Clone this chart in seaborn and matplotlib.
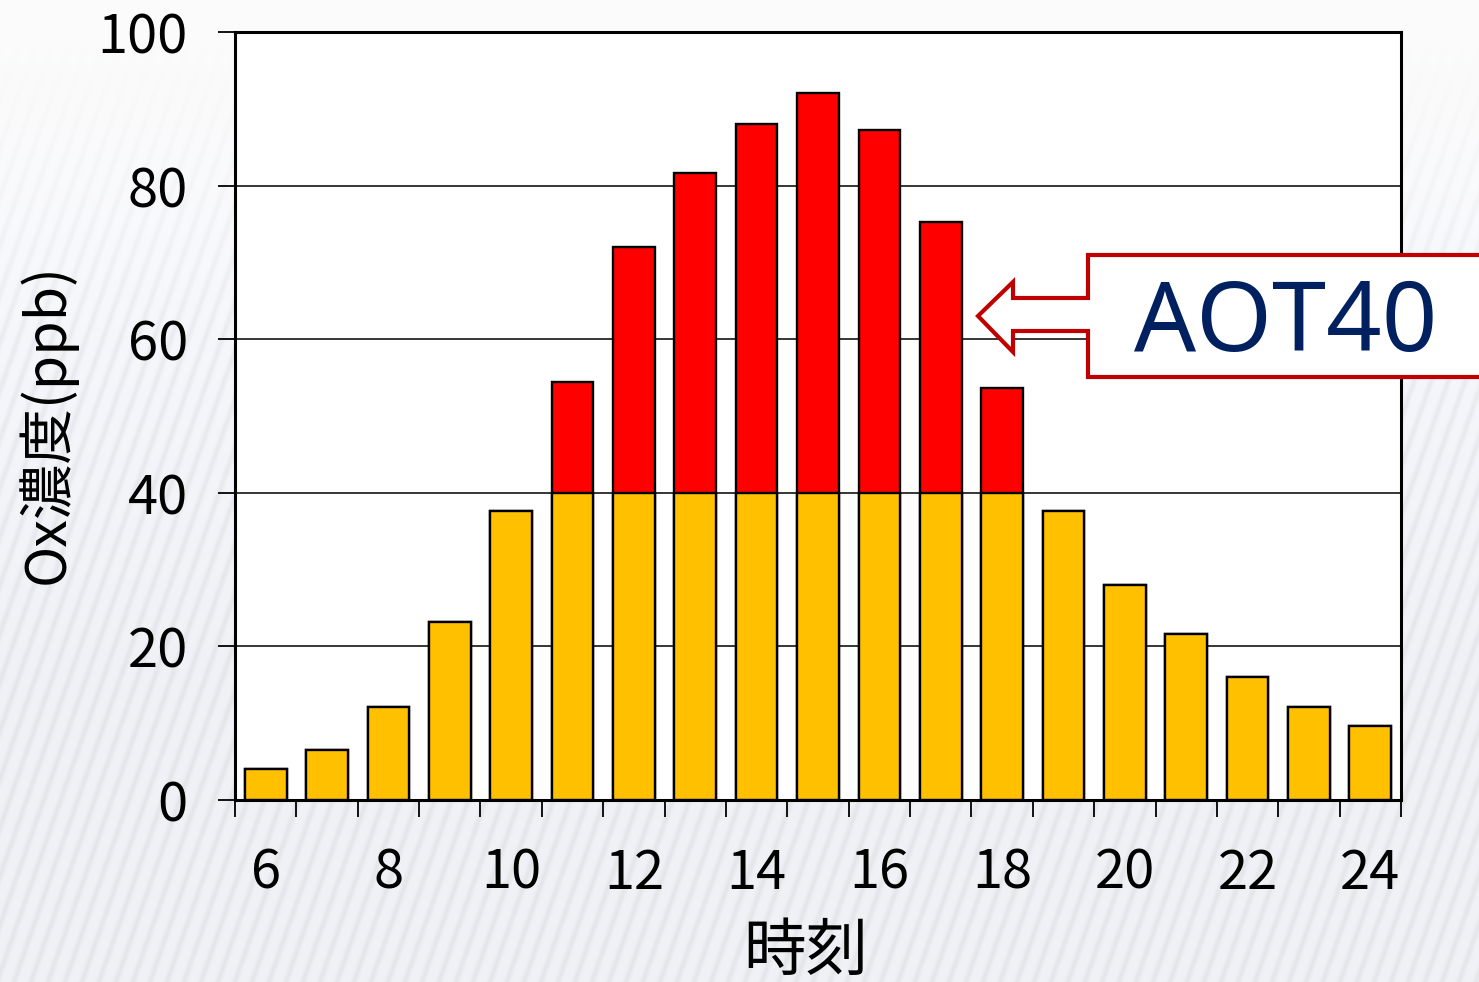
import numpy as np
import pandas as pd
import matplotlib
matplotlib.use("Agg")
import matplotlib.pyplot as plt
from matplotlib.patches import Polygon
import seaborn as sns

# Hourly Ox concentration (ppb), 6h to 24h
hours = [6, 7, 8, 9, 10, 11, 12, 13, 14, 15, 16, 17, 18, 19, 20, 21, 22, 23, 24]
ox_ppb = [4.0, 6.5, 12.1, 23.2, 37.6, 54.4, 72.0, 81.6, 88.0, 92.1, 87.2, 75.3,
          53.6, 37.6, 28.0, 21.6, 16.0, 12.1, 9.6]
threshold = 40
tick_hours = [6, 8, 10, 12, 14, 16, 18, 20, 22, 24]
y_ticks = [0, 20, 40, 60, 80, 100]

df = pd.DataFrame({"hour": [str(h) for h in hours], "ox": ox_ppb})
df["base"] = df["ox"].clip(upper=threshold)

sns.set_theme(style="white")
plt.rcParams["font.family"] = ["Noto Sans CJK JP", "DejaVu Sans"]

W, H, DPI = 1479, 982, 100
fig = plt.figure(figsize=(W / DPI, H / DPI), dpi=DPI)

# light striped backdrop
bg = fig.add_axes([0, 0, 1, 1], zorder=-10)
yy, xx = np.mgrid[0:H, 0:W]
phase = (xx + 0.35 * yy) / 17.0
stripe = (0.5 + 0.5 * np.cos(2 * np.pi * phase)) ** 3
fade = np.clip((yy - 40) / 300.0, 0, 1)
lower = np.clip((yy - 180) / 500.0, 0, 1)
val = 0.985 - 0.045 * stripe * fade - 0.03 * lower
img = np.dstack([val - 0.012 * fade, val - 0.008 * fade, val + 0.01 * fade])
img = np.clip(img, 0, 1)
bg.imshow(img, aspect="auto", extent=[0, 1, 0, 1], interpolation="bilinear")
bg.set_axis_off()

L, R, T, B = 235, 1401, 32, 800
ax = fig.add_axes([L / W, 1 - B / H, (R - L) / W, (B - T) / H])
ax.set_facecolor("white")

order = [str(h) for h in hours]
sns.barplot(data=df, x="hour", y="ox", order=order, color="#FF0000",
            saturation=1, width=0.68, edgecolor="black", linewidth=1.7,
            ax=ax, zorder=3)
sns.barplot(data=df, x="hour", y="base", order=order, color="#FFC000",
            saturation=1, width=0.68, edgecolor="black", linewidth=1.7,
            ax=ax, zorder=4)

ax.set_xlim(-0.5, len(hours) - 0.5)
ax.set_ylim(0, 100)
ax.set_yticks(y_ticks)
ax.set_yticklabels([str(v) for v in y_ticks])
ax.yaxis.grid(True, color="black", linewidth=1.1)
ax.set_axisbelow(True)
for g in ax.get_ygridlines():
    g.set_zorder(1)

# labels centred on bars, tick marks at the category boundaries
ax.set_xticks([hours.index(h) for h in tick_hours])
ax.set_xticklabels([str(h) for h in tick_hours])
ax.set_xticks(np.arange(-0.5, len(hours), 1.0), minor=True)
ax.tick_params(axis="x", which="major", length=0, pad=33, labelsize=39,
               labelcolor="black")
ax.tick_params(axis="x", which="minor", length=12, width=1.3, color="black",
               direction="out", bottom=True)
ax.tick_params(axis="y", which="major", length=12, width=1.3, color="black",
               direction="out", left=True, pad=22, labelsize=39,
               labelcolor="black")

for s in ax.spines.values():
    s.set_color("black")
    s.set_linewidth(2.2)
    s.set_zorder(6)

ax.set_xlabel("時刻", fontsize=45, color="black")
ax.xaxis.set_label_coords((806 - L) / (R - L), (B - 952) / (B - T))
ax.xaxis.label.set_va("center")
ax.set_ylabel("Ox濃度(ppb)", fontsize=40, color="black")
ax.yaxis.set_label_coords((47 - L) / (R - L), 0.49)
ax.yaxis.label.set_va("center")

# callout: box with left-pointing arrow
pts_px = [(1520, 255), (1088, 255), (1088, 298), (1013, 298), (1013, 282),
          (978, 316), (1013, 352), (1013, 331), (1088, 331), (1088, 377),
          (1520, 377)]
pts = [(x / W, 1 - y / H) for x, y in pts_px]
callout = Polygon(pts, closed=True, facecolor="white", edgecolor="#C00000",
                  linewidth=3.0, transform=fig.transFigure, clip_on=False,
                  zorder=10, joinstyle="miter")
fig.patches.append(callout)
fig.text(1286 / W, 1 - 325 / H, "AOT40", fontsize=70, color="#002060",
         ha="center", va="center", family=["Noto Sans", "DejaVu Sans"],
         zorder=11)

fig.savefig("out.png", dpi=DPI)
